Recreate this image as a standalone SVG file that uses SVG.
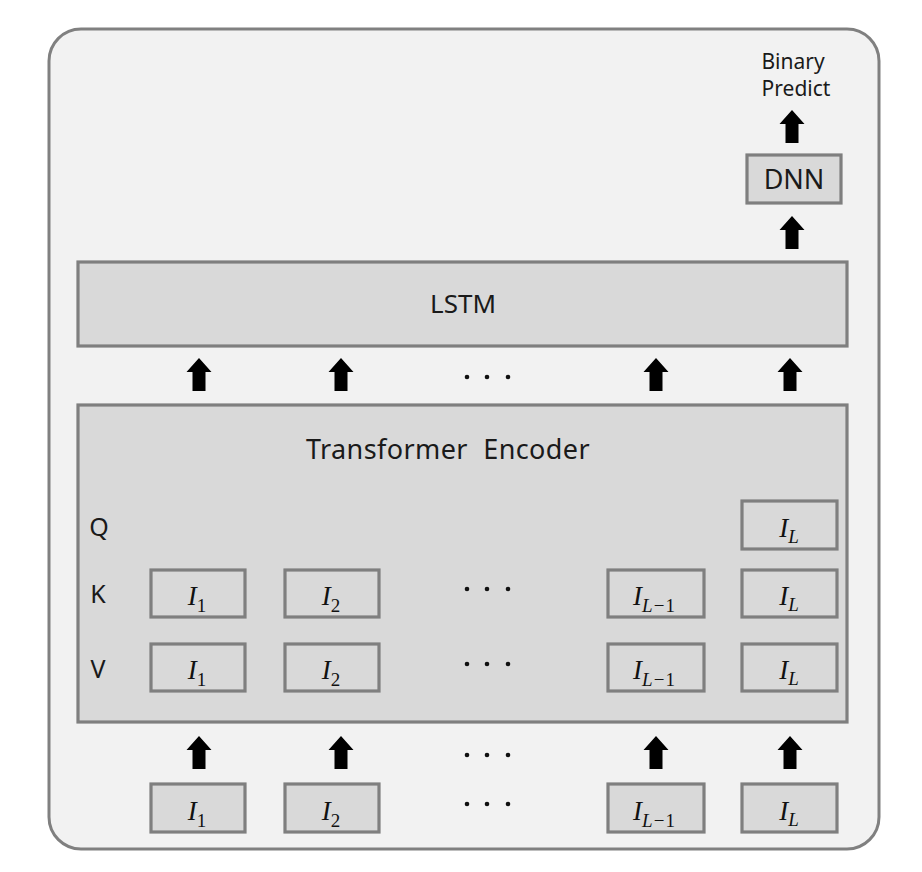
<svg xmlns="http://www.w3.org/2000/svg" width="922" height="872" viewBox="0 0 922 872">
<defs>
<style>
.box{fill:#d9d9d9;stroke:#7f7f7f;stroke-width:3.2}
.lbl{font-family:"Noto Sans","Open Sans","Liberation Sans",sans-serif;fill:#1a1a1a}
.m{font-family:"Liberation Serif","Times New Roman",serif;font-size:27px;fill:#111;text-anchor:middle}
.mi{font-style:italic}
.sub{font-size:19px}
.dot{fill:#111}
</style>
<path id="arr" d="M0,0 L12.5,14 L6.5,14 L6.5,33 L-6.5,33 L-6.5,14 L-12.5,14 Z" fill="#000"/>
<g id="dots"><circle class="dot" cx="467" cy="0" r="2.3"/><circle class="dot" cx="487" cy="0" r="2.3"/><circle class="dot" cx="508" cy="0" r="2.3"/></g>
</defs>
<rect id="outer" x="49" y="29" width="830" height="820" rx="32" ry="32" fill="#f2f2f2" stroke="#808080" stroke-width="3"/>

<g id="binary-predict">
<text class="lbl" x="793" y="69" font-size="21" text-anchor="middle">Binary</text>
<text class="lbl" x="796" y="96" font-size="21" text-anchor="middle">Predict</text>
</g>
<g id="dnn">
<rect class="box" x="747" y="155" width="94" height="48"/>
<text class="lbl" x="794" y="189" font-size="27" text-anchor="middle">DNN</text>
</g>
<g id="lstm">
<rect class="box" x="78" y="262" width="769" height="84"/>
<text class="lbl" x="463" y="313" font-size="26" text-anchor="middle">LSTM</text>
</g>
<g id="transformer">
<rect class="box" x="78" y="405" width="769" height="317"/>
<text class="lbl" x="448" y="459" font-size="27" text-anchor="middle" word-spacing="8" letter-spacing="0.4">Transformer Encoder</text>
<text class="lbl" x="99" y="536" font-size="25" text-anchor="middle">Q</text>
<text class="lbl" x="98" y="603" font-size="25" text-anchor="middle">K</text>
<text class="lbl" x="98" y="678" font-size="25" text-anchor="middle">V</text>
</g>

<g id="q-L"><rect class="box" x="742" y="501" width="95" height="48"/><text class="m" x="789" y="537"><tspan class="mi">I</tspan><tspan class="sub mi" dy="6">L</tspan></text></g>

<g id="k-1"><rect class="box" x="151" y="570" width="94" height="47"/><text class="m" x="197" y="605"><tspan class="mi">I</tspan><tspan class="sub" dy="7">1</tspan></text></g>
<g id="k-2"><rect class="box" x="285" y="570" width="94" height="47"/><text class="m" x="331" y="605"><tspan class="mi">I</tspan><tspan class="sub" dy="7">2</tspan></text></g>
<g id="k-L1"><rect class="box" x="608" y="570" width="96" height="47"/><text class="m" x="654" y="605"><tspan class="mi">I</tspan><tspan class="sub" dy="7"><tspan class="mi">L</tspan><tspan dx="1">−</tspan><tspan dx="1">1</tspan></tspan></text></g>
<g id="k-L"><rect class="box" x="742" y="570" width="95" height="47"/><text class="m" x="789" y="605"><tspan class="mi">I</tspan><tspan class="sub mi" dy="6">L</tspan></text></g>

<g id="v-1"><rect class="box" x="151" y="644" width="94" height="47"/><text class="m" x="197" y="679"><tspan class="mi">I</tspan><tspan class="sub" dy="7">1</tspan></text></g>
<g id="v-2"><rect class="box" x="285" y="644" width="94" height="47"/><text class="m" x="331" y="679"><tspan class="mi">I</tspan><tspan class="sub" dy="7">2</tspan></text></g>
<g id="v-L1"><rect class="box" x="608" y="644" width="96" height="47"/><text class="m" x="654" y="679"><tspan class="mi">I</tspan><tspan class="sub" dy="7"><tspan class="mi">L</tspan><tspan dx="1">−</tspan><tspan dx="1">1</tspan></tspan></text></g>
<g id="v-L"><rect class="box" x="742" y="644" width="95" height="47"/><text class="m" x="789" y="679"><tspan class="mi">I</tspan><tspan class="sub mi" dy="6">L</tspan></text></g>

<g id="in-1"><rect class="box" x="151" y="784" width="94" height="48"/><text class="m" x="197" y="820"><tspan class="mi">I</tspan><tspan class="sub" dy="7">1</tspan></text></g>
<g id="in-2"><rect class="box" x="285" y="784" width="94" height="48"/><text class="m" x="331" y="820"><tspan class="mi">I</tspan><tspan class="sub" dy="7">2</tspan></text></g>
<g id="in-L1"><rect class="box" x="608" y="784" width="96" height="48"/><text class="m" x="654" y="820"><tspan class="mi">I</tspan><tspan class="sub" dy="7"><tspan class="mi">L</tspan><tspan dx="1">−</tspan><tspan dx="1">1</tspan></tspan></text></g>
<g id="in-L"><rect class="box" x="742" y="784" width="95" height="48"/><text class="m" x="789" y="820"><tspan class="mi">I</tspan><tspan class="sub mi" dy="6">L</tspan></text></g>

<g id="connectors">
<use href="#arr" x="792" y="110"/>
<use href="#arr" x="792" y="216"/>
<use href="#arr" x="199" y="358"/>
<use href="#arr" x="341" y="358"/>
<use href="#arr" x="656" y="358"/>
<use href="#arr" x="790" y="358"/>
<use href="#arr" x="199" y="736"/>
<use href="#arr" x="341" y="736"/>
<use href="#arr" x="656" y="736"/>
<use href="#arr" x="790" y="736"/>
</g>
<g id="ellipses">
<use href="#dots" y="377"/>
<use href="#dots" y="589"/>
<use href="#dots" y="664"/>
<use href="#dots" y="755"/>
<use href="#dots" y="804"/>
</g>
</svg>
